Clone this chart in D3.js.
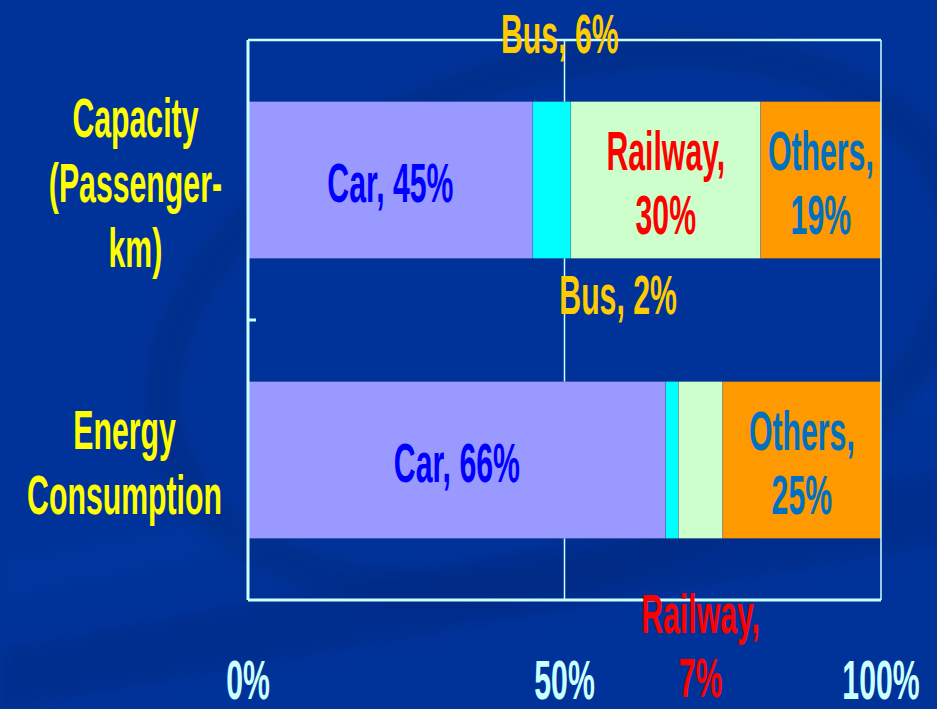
<!DOCTYPE html>
<html>
<head>
<meta charset="utf-8">
<script src="https://cdn.jsdelivr.net/npm/d3@7"></script>
<style>
  html, body { margin: 0; padding: 0; background: #003399; overflow: hidden; }
  svg { display: block; }
</style>
</head>
<body>
<svg id="chart" width="937" height="709"></svg>
<script>
// ---- data ----
const categories = ["Capacity (Passenger-km)", "Energy Consumption"];
const categoryLines = [["Capacity", "(Passenger-", "km)"], ["Energy", "Consumption"]];
const modes = ["Car", "Bus", "Railway", "Others"];
const capacityShares = [45, 6, 30, 19];
const energyShares = [66, 2, 7, 25];
const tickValues = [0, 50, 100];
const tickLabels = ["0%", "50%", "100%"];

// ---- styling ----
const W = 937, H = 709;
const margin = { top: 40, right: 56, bottom: 109, left: 248 };
const fills = { Car: "#9999ff", Bus: "#00ffff", Railway: "#ccffcc", Others: "#ff9900" };
const labelColors = { Car: "#0000ff", Bus: "#ffcc00", Railway: "#ff0000", Others: "#0070c0" };
const wrapModes = new Set(["Railway", "Others"]);
const axisColor = "#ccffff";
const FONT = "'Liberation Sans', Arial, Helvetica, sans-serif";
const FS = 55;          // font size
const SX = 0.55;        // condensed horizontal scale
const LINE = 64;        // line height for wrapped labels
const CAP = FS * 0.716; // cap height

const svg = d3.select("#chart");

// ---- background ----
svg.append("rect").attr("width", W).attr("height", H).attr("fill", "#003399");
const deco = svg.append("g").attr("class", "backdrop");
const defs = svg.append("defs");
defs.append("filter").attr("id", "soft")
  .append("feGaussianBlur").attr("stdDeviation", 6);
deco.append("polygon")
  .attr("points", "0,650 937,470 937,545 0,709")
  .attr("fill", "#002c88").attr("opacity", 0.55).attr("filter", "url(#soft)");
deco.append("polygon")
  .attr("points", "0,560 937,380 937,410 0,600")
  .attr("fill", "#003aa6").attr("opacity", 0.35).attr("filter", "url(#soft)");
deco.append("ellipse")
  .attr("cx", 560).attr("cy", 320).attr("rx", 410).attr("ry", 250)
  .attr("transform", "rotate(-18 560 320)")
  .attr("fill", "none").attr("stroke", "#002a80").attr("stroke-width", 38)
  .attr("opacity", 0.45).attr("filter", "url(#soft)");

// ---- scales ----
const x = d3.scaleLinear().domain([0, 100]).range([margin.left, W - margin.right]);
const y = d3.scaleBand().domain(categories)
  .range([margin.top, H - margin.bottom])
  .paddingInner(0.44).paddingOuter(0.22);

const rows = categories.map((c, i) => {
  const vals = i === 0 ? capacityShares : energyShares;
  const r = { category: c };
  modes.forEach((m, j) => r[m] = vals[j]);
  return r;
});
const series = d3.stack().keys(modes)(rows);

const plotTop = y.range()[0], plotBottom = y.range()[1];
const plotLeft = x(0), plotRight = x(100);

// ---- gridline at 50% ----
svg.append("g").selectAll("line").data(tickValues.filter(v => v > 0 && v < 100))
  .join("line")
  .attr("x1", d => x(d)).attr("x2", d => x(d))
  .attr("y1", plotTop).attr("y2", plotBottom)
  .attr("stroke", axisColor).attr("stroke-width", 1.5);

// ---- bars ----
svg.append("g").selectAll("g").data(series).join("g")
  .attr("fill", d => fills[d.key])
  .selectAll("rect").data(d => d).join("rect")
  .attr("x", d => x(d[0]))
  .attr("width", d => x(d[1]) - x(d[0]))
  .attr("y", d => y(d.data.category))
  .attr("height", y.bandwidth())
  .attr("stroke", "rgba(60,60,90,0.35)").attr("stroke-width", 0.6);

// ---- frame / axes ----
const frame = svg.append("g").attr("stroke", axisColor).attr("fill", "none");
frame.append("line").attr("x1", plotLeft).attr("x2", plotRight)
  .attr("y1", plotTop).attr("y2", plotTop).attr("stroke-width", 2.5);
frame.append("line").attr("x1", plotRight).attr("x2", plotRight)
  .attr("y1", plotTop).attr("y2", plotBottom).attr("stroke-width", 1.5);
frame.append("line").attr("x1", plotLeft).attr("x2", plotRight)
  .attr("y1", plotBottom).attr("y2", plotBottom).attr("stroke-width", 3);
frame.append("line").attr("x1", plotLeft).attr("x2", plotLeft)
  .attr("y1", plotTop).attr("y2", plotBottom).attr("stroke-width", 3);
// category boundary tick between the two bands
frame.append("line")
  .attr("x1", plotLeft).attr("x2", plotLeft + 8)
  .attr("y1", plotTop + y.step()).attr("y2", plotTop + y.step())
  .attr("stroke-width", 3);

// ---- text helper ----
function addLines(g, lines, cx, baseline, color) {
  return lines.map((t, i) => g.append("text")
    .attr("transform", `translate(${cx},${baseline + i * LINE}) scale(${SX},1)`)
    .attr("text-anchor", "middle")
    .attr("font-family", FONT).attr("font-weight", "bold")
    .attr("font-size", FS).attr("fill", color)
    .text(t));
}

// ---- x tick labels ----
const tickG = svg.append("g");
tickValues.forEach((v, i) => addLines(tickG, [tickLabels[i]], x(v), 699, axisColor));

// ---- category labels: block right-aligned to the axis, lines centred ----
const catG = svg.append("g");
categories.forEach((c, i) => {
  const lines = categoryLines[i];
  const cy = y(c) + y.bandwidth() / 2;
  const first = cy + CAP / 2 + 2 - (lines.length - 1) * 65 / 2;
  const texts = lines.map((t, k) => catG.append("text")
    .attr("font-family", FONT).attr("font-weight", "bold")
    .attr("font-size", FS).attr("fill", "#ffff00")
    .attr("text-anchor", "middle").text(t)
    .attr("data-baseline", first + k * 65));
  const widest = d3.max(texts, t => t.node().getComputedTextLength()) * SX;
  const right = plotLeft - 26;
  const cx = right - widest / 2;
  texts.forEach(t => t.attr("transform",
    `translate(${cx},${+t.attr("data-baseline")}) scale(${SX},1)`));
});

// ---- value labels ----
const labelG = svg.append("g");
const gapMid = plotTop + y.step();
const outside = {
  "Capacity (Passenger-km)|Bus": { where: "above", dx: 8 },
  "Energy Consumption|Bus": { where: "gap", dx: -54 },
  "Energy Consumption|Railway": { where: "below", dx: 0 }
};
series.forEach(s => {
  s.forEach(d => {
    const cat = d.data.category;
    const val = d[1] - d[0];
    const lines = wrapModes.has(s.key) ? [`${s.key},`, `${val}%`] : [`${s.key}, ${val}%`];
    const cx = (x(d[0]) + x(d[1])) / 2;
    const place = outside[`${cat}|${s.key}`];
    let baseline;
    if (!place) {
      const cy = y(cat) + y.bandwidth() / 2;
      baseline = cy + CAP / 2 + 2 - (lines.length - 1) * LINE / 2;
      addLines(labelG, lines, cx, baseline, labelColors[s.key]);
    } else {
      if (place.where === "above") baseline = plotTop + 13;
      else if (place.where === "gap") baseline = gapMid - 6;
      else baseline = plotBottom + 33;
      addLines(labelG, lines, cx + place.dx, baseline, labelColors[s.key]);
    }
  });
});
</script>
</body>
</html>
